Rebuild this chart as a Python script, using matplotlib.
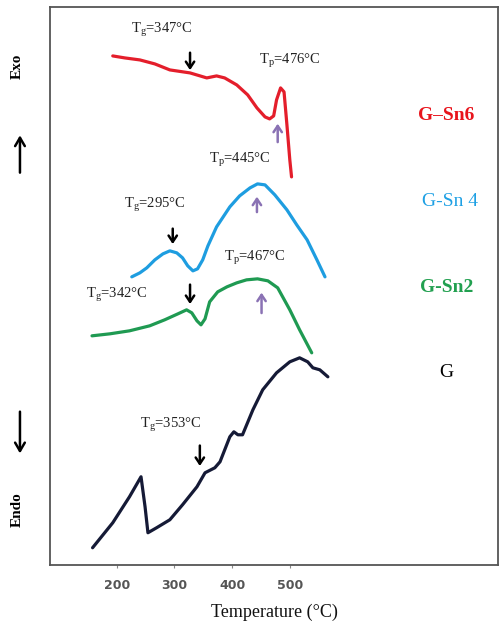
import matplotlib
matplotlib.use("Agg")
import matplotlib.pyplot as plt

plt.rcParams["font.family"] = "Liberation Serif"
plt.rcParams["mathtext.fontset"] = "custom"
plt.rcParams["mathtext.rm"] = "Liberation Serif"
plt.rcParams["mathtext.it"] = "Liberation Serif:italic"

# DSC traces, temperature (°C) vs heat flow (arbitrary units, stacked)
sn6_t = [193, 214, 240, 266, 292, 327, 356, 373, 387, 408, 427, 443, 457, 465, 472, 477, 484, 490, 495, 500, 503]
sn6_y = [575, 573, 571, 567, 561, 558, 553, 555, 553, 546, 536, 523, 514, 512, 515, 531, 543, 539, 506, 471, 454]

sn4_t = [226, 240, 252, 266, 280, 292, 304, 314, 323, 332, 340, 349, 358, 373, 396, 413, 431, 444, 457, 474, 495, 512, 530, 547, 561]
sn4_y = [354, 358, 363, 371, 377, 380, 378, 373, 365, 360, 362, 371, 385, 404, 424, 435, 443, 447, 446, 436, 421, 406, 391, 371, 354]

sn2_t = [157, 188, 222, 257, 283, 306, 321, 330, 339, 346, 353, 361, 375, 391, 408, 425, 444, 462, 479, 500, 517, 538]
sn2_y = [295, 297, 300, 305, 311, 317, 321, 318, 310, 306, 312, 329, 339, 344, 348, 351, 352, 350, 343, 321, 301, 278]

g_t = [158, 193, 222, 242, 249, 254, 269, 292, 314, 339, 353, 370, 379, 396, 403, 410, 418, 436, 453, 477, 500, 517, 531, 540, 552, 566]
g_y = [83, 108, 134, 154, 124, 98, 103, 111, 126, 144, 158, 163, 169, 194, 199, 196, 196, 221, 241, 258, 269, 273, 269, 263, 261, 254]

series = [
    (sn6_t, sn6_y, "#e41e2b"),
    (sn4_t, sn4_y, "#1e9de0"),
    (sn2_t, sn2_y, "#1f9a52"),
    (g_t, g_y, "#151a36"),
]

# annotation texts: (label, x, y)
notes = [
    (r"T$_\mathrm{g}$=347°C", 278, 601),
    (r"T$_\mathrm{p}$=476°C", 500, 570),
    (r"T$_\mathrm{p}$=445°C", 413, 471),
    (r"T$_\mathrm{g}$=295°C", 266, 426),
    (r"T$_\mathrm{p}$=467°C", 439, 373),
    (r"T$_\mathrm{g}$=342°C", 200, 336),
    (r"T$_\mathrm{g}$=353°C", 294, 206),
]
# arrows: (x, y_tail, y_head, colour)
arrows = [
    (327, 581, 558, "black"),
    (479, 486, 510, "#8a72b4"),
    (443, 416, 437, "#8a72b4"),
    (297, 405, 384, "black"),
    (451, 315, 341, "#8a72b4"),
    (327, 349, 324, "black"),
    (344, 188, 162, "black"),
]
# sample names: (label, x, y, colour, weight)
names = [
    ("G\u2013Sn6", 772, 515, "#e8141c", "bold"),
    ("G-Sn 4", 777, 429, "#1ea0e4", "normal"),
    ("G-Sn2", 772, 343, "#22a050", "bold"),
    ("G", 772, 258, "black", "normal"),
]
xticks = [200, 300, 400, 500]

fig = plt.figure(figsize=(4.99, 6.31), dpi=100)
ax = fig.add_axes([0.100, 0.105, 0.898, 0.884])

for t, y, c in series:
    ax.plot(t, y, color=c, lw=2.3, solid_capstyle="round", solid_joinstyle="round")

for s, x, y in notes:
    ax.text(x, y, s, ha="center", va="center", fontsize=10.5, color="#222222")

for x, y0, y1, c in arrows:
    ax.annotate("", xy=(x, y1), xytext=(x, y0),
                arrowprops=dict(arrowstyle="->,head_length=0.45,head_width=0.3", color=c, lw=1.8))

for s, x, y, c, w in names:
    ax.text(x, y, s, ha="center", va="center", fontsize=14, color=c, fontweight=w)

ax.set_xlim(84, 861)
ax.set_ylim(66, 624)
ax.set_yticks([])
ax.set_xticks(xticks)
ax.tick_params(axis="x", length=2, width=0.8, color="#888888", pad=8, labelcolor="#555555")
for lab in ax.get_xticklabels():
    lab.set_fontfamily("DejaVu Sans")
    lab.set_fontweight("bold")
    lab.set_fontsize(9)
for sp in ax.spines.values():
    sp.set_color("#555555")
    sp.set_linewidth(1.3)
ax.set_xlabel("Temperature (°C)", fontsize=13, labelpad=9, color="#111111")

# Exo / Endo side labels with direction arrows
fig.text(0.034, 0.895, "Exo", rotation=90, ha="center", va="center", fontsize=11, fontweight="bold")
fig.text(0.034, 0.192, "Endo", rotation=90, ha="center", va="center", fontsize=11, fontweight="bold")
side = dict(arrowstyle="->,head_length=0.6,head_width=0.35", color="black", lw=1.8)
ax.annotate("", xy=(0.040, 0.790), xytext=(0.040, 0.722), xycoords="figure fraction",
            textcoords="figure fraction", arrowprops=side, annotation_clip=False)
ax.annotate("", xy=(0.040, 0.277), xytext=(0.040, 0.352), xycoords="figure fraction",
            textcoords="figure fraction", arrowprops=side, annotation_clip=False)

fig.savefig("out.png", dpi=100)
